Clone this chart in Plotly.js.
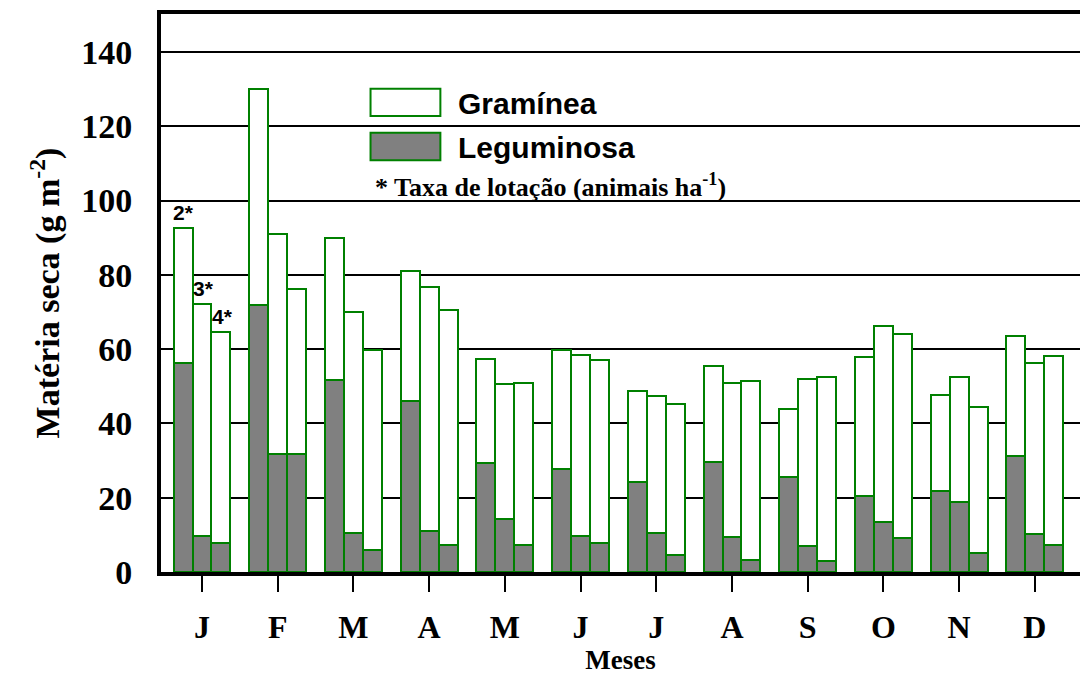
<!DOCTYPE html>
<html>
<head>
<meta charset="utf-8">
<script src="https://cdn.plot.ly/plotly-3.0.1.min.js"></script>
<style>html,body{margin:0;padding:0;background:#fff;}#chart{width:1080px;height:677px;}</style>
</head>
<body>
<div id="chart"></div>
<script>
// Months (tick labels)
const months = ['J','F','M','A','M','J','J','A','S','O','N','D'];
// Stocking rates (animais ha-1)
const rates = [2, 3, 4];
// Total dry matter (g m-2) per stocking rate
const total2 = [92.5,130.0,89.8,80.9,57.3,59.8,48.7,55.5,43.8,57.8,47.7,63.4];
const total3 = [72.2, 91.1,69.9,76.7,50.7,58.3,47.3,50.8,51.9,66.2,52.4,56.3];
const total4 = [64.5, 76.2,59.8,70.6,50.9,57.1,45.2,51.4,52.5,64.0,44.4,58.2];
// Leguminosa dry matter (g m-2) per stocking rate
const leg2 = [56.2,71.8,51.6,46.0,29.3,27.6,24.1,29.7,25.7,20.4,21.7,31.1];
const leg3 = [ 9.8,31.7,10.4,11.1,14.4, 9.8,10.4, 9.5, 7.1,13.5,18.8,10.3];
const leg4 = [ 7.7,31.7, 5.8, 7.2, 7.4, 7.7, 4.5, 3.3, 2.9, 9.2, 5.0, 7.4];

const totals = [total2, total3, total4];
const legs = [leg2, leg3, leg4];
const nameGram = 'Gramínea';
const nameLeg = 'Leguminosa';

const barW = 0.25;
const xs = [], yLeg = [], yGram = [];
months.forEach((m, i) => {
  rates.forEach((r, k) => {
    xs.push(i + (k - 1) * barW);
    yLeg.push(legs[k][i]);
    yGram.push(+(totals[k][i] - legs[k][i]).toFixed(2));
  });
});

const green = '#008000';
const traces = [
  {type:'bar', name:nameLeg, x:xs, y:yLeg, width:barW,
   marker:{color:'#808080', line:{color:green, width:2}}, showlegend:false, hoverinfo:'x+y'},
  {type:'bar', name:nameGram, x:xs, y:yGram, width:barW,
   marker:{color:'#ffffff', line:{color:green, width:2}}, showlegend:false, hoverinfo:'x+y'}
];

const serif = 'Liberation Serif, Times New Roman, serif';
const sans = 'Liberation Sans, Arial, sans-serif';

const annotations = rates.map((r, k) => ({
  x: 0 + (k - 1) * barW, y: totals[k][0], xref:'x', yref:'y',
  text: r + '*', showarrow:false, yanchor:'bottom', xanchor:'center',
  yshift: 2, xshift: k === 0 ? 0 : 2,
  font:{family:sans, size:21, color:'#000', weight:'bold'}
}));
annotations.push(
  {xref:'paper', yref:'paper', x:0.321, y:0.8405, xanchor:'left', yanchor:'middle', showarrow:false,
   text:nameGram, font:{family:sans, size:30, color:'#000', weight:'bold'}},
  {xref:'paper', yref:'paper', x:0.321, y:0.7616, xanchor:'left', yanchor:'middle', showarrow:false,
   text:nameLeg, font:{family:sans, size:30, color:'#000', weight:'bold'}},
  {xref:'paper', yref:'paper', x:0.2304, y:0.692, xanchor:'left', yanchor:'middle', showarrow:false,
   text:'* Taxa de lotação (animais ha<sup>-1</sup>)', font:{family:serif, size:26, color:'#000', weight:'bold'}}
);

const shapes = [
  {type:'rect', xref:'paper', yref:'paper', x0:0.228, x1:0.304, y0:0.817, y1:0.866,
   fillcolor:'#ffffff', line:{color:green, width:2}},
  {type:'rect', xref:'paper', yref:'paper', x0:0.228, x1:0.304, y0:0.738, y1:0.787,
   fillcolor:'#808080', line:{color:green, width:2}}
];

const layout = {
  width:1080, height:677,
  margin:{l:161, r:0, t:14, b:105},
  paper_bgcolor:'#ffffff', plot_bgcolor:'#ffffff',
  barmode:'stack', bargap:0,
  showlegend:false,
  xaxis:{
    range:[-0.541, 11.596], tickmode:'array',
    tickvals: months.map((m, i) => i), ticktext: months,
    ticks:'outside', ticklen:16, tickwidth:2, tickcolor:'#000',
    showline:true, linewidth:4, linecolor:'#000', mirror:true,
    showgrid:false, zeroline:false,
    ticklabelstandoff:8,
    tickfont:{family:serif, size:32, color:'#000', weight:'bold'},
    title:{text:'Meses', standoff:4, font:{family:serif, size:27, color:'#000', weight:'bold'}}
  },
  yaxis:{
    range:[0, 150.2], tickvals:[0,20,40,60,80,100,120,140],
    ticks:'', showline:true, linewidth:4, linecolor:'#000',
    showgrid:true, gridcolor:'#000', gridwidth:2, zeroline:false,
    ticklabelstandoff:18,
    tickfont:{family:serif, size:34, color:'#000', weight:'bold'},
    title:{text:'Matéria seca (g m<sup>-2</sup>)', standoff:12, font:{family:serif, size:34, color:'#000', weight:'bold'}}
  },
  annotations, shapes
};

Plotly.newPlot('chart', traces, layout, {displayModeBar:false, staticPlot:true});
</script>
</body>
</html>
